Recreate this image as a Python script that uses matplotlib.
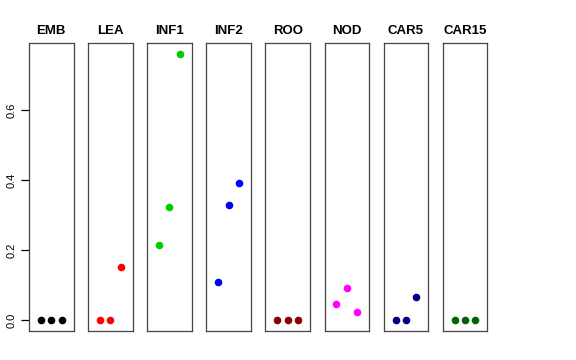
import numpy as np
import matplotlib
matplotlib.use("Agg")
import matplotlib.pyplot as plt

plt.rcParams.update({
    "font.family": ["Liberation Sans", "DejaVu Sans"],
    "font.size": 8,
})

tissues = ["EMB", "LEA", "INF1", "INF2", "ROO", "NOD", "CAR5", "CAR15"]
colors = ["black", "#FF0000", "#00CD00", "#0000FF", "#8B0000", "#FF00FF", "#000080", "#006400"]
values = [
    [0.0, 0.0, 0.0],
    [0.0, 0.0, 0.152],
    [0.216, 0.323, 0.761],
    [0.109, 0.330, 0.392],
    [0.0, 0.0, 0.0],
    [0.048, 0.091, 0.023],
    [0.0, 0.0, 0.067],
    [0.0, 0.0, 0.0],
]
reps = [1, 2, 3]
yticks = [0.0, 0.2, 0.4, 0.6]

W, H = 576, 360
fig = plt.figure(figsize=(W / 100, H / 100), dpi=100)

ymin = min(min(v) for v in values)
ymax = max(max(v) for v in values)
pad = (ymax - ymin) * 0.04

for i, (name, col, vals) in enumerate(zip(tissues, colors, values)):
    left = 29 + i * 59.1
    ax = fig.add_axes([left / W, 29 / H, 44.5 / W, 288 / H])
    ax.scatter(reps, vals, color=col, s=20, zorder=3)
    ax.set_xlim(0 - 0.16, 4 + 0.16)
    ax.set_ylim(ymin - pad, ymax + pad)
    ax.set_xticks([])
    for s in ax.spines.values():
        s.set_linewidth(0.9)
        s.set_color("#444444")
    ax.set_title(name, fontweight="bold", fontsize=9.5, pad=6.5)
    if i == 0:
        ax.set_yticks(yticks)
        ax.set_yticklabels([f"{t:.1f}" for t in yticks], rotation=90, va="center")
        ax.tick_params(axis="y", length=6, width=0.9, pad=3, labelsize=8)
    else:
        ax.set_yticks([])

fig.savefig("out.png", dpi=100)
